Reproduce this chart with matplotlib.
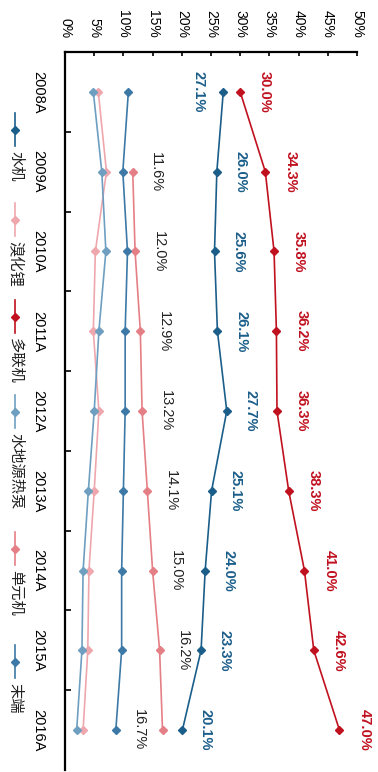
import numpy as np
import matplotlib
matplotlib.use('Agg')
import matplotlib.pyplot as plt
from matplotlib.lines import Line2D

plt.rcParams['font.family'] = ['Liberation Sans', 'Noto Sans CJK SC', 'DejaVu Sans']

#%% Data (values in %)
years = ['2008A', '2009A', '2010A', '2011A', '2012A', '2013A', '2014A', '2015A', '2016A']
names = ['水机', '溴化锂', '多联机', '水地源热泵', '单元机', '末端']

shuiji = [27.1, 26.0, 25.6, 26.1, 27.7, 25.1, 24.0, 23.3, 20.1]
xiuhuali = [5.7, 7.1, 5.2, 4.85, 5.8, 5.0, 4.1, 3.9, 3.1]
duolianji = [30.0, 34.3, 35.8, 36.2, 36.3, 38.3, 41.0, 42.6, 47.0]
shuidiyuan = [4.85, 6.3, 7.0, 5.8, 5.0, 4.0, 3.1, 2.9, 2.0]
danyuanji = [np.nan, 11.6, 12.0, 12.9, 13.2, 14.1, 15.0, 16.2, 16.7]
moduan = [10.85, 9.9, 10.7, 10.3, 10.3, 10.0, 9.7, 9.7, 8.7]

series = [shuiji, xiuhuali, duolianji, shuidiyuan, danyuanji, moduan]
colors = ['#1B5E8A', '#EFA7AE', '#C0111F', '#6E9FC1', '#E57F86', '#3D79A6']

#%% Figure, drawn already turned a quarter clockwise
W, H = 378, 772
fig = plt.figure(figsize=(W / 100, H / 100), dpi=100)
ax = fig.add_axes([65 / W, (H - 770) / H, (357 - 65) / W, 718 / H])

ypos = np.arange(len(years)) + 0.5
for vals, c in zip(series, colors):
    ax.plot(vals, ypos, color=c, lw=1.2, marker='D', ms=4.5, zorder=3)

ax.set_xlim(0, 50)
ax.set_ylim(len(years), 0)

# value axis on top
ax.xaxis.tick_top()
ax.set_xticks(np.arange(0, 51, 5))
ax.set_xticklabels(['%d%%' % v for v in range(0, 51, 5)], rotation=270, fontsize=10)
ax.tick_params(axis='x', direction='in', length=3, width=1.2, pad=10)

# category axis on the left
ax.set_yticks(np.arange(1, len(years)))
ax.set_yticklabels([])
ax.set_yticks(ypos, minor=True)
ax.set_yticklabels(years, minor=True, rotation=270, va='center', fontsize=10.5)
ax.tick_params(axis='y', which='major', direction='in', length=4, width=1.2)
ax.tick_params(axis='y', which='minor', length=0, pad=14)

for s in ['right', 'bottom']:
    ax.spines[s].set_visible(False)
for s in ['top', 'left']:
    ax.spines[s].set_linewidth(1.6)

#%% Data labels
def put_labels(vals, color, weight, offsets):
    for v, y, off in zip(vals, ypos, offsets):
        if np.isnan(v):
            continue
        ax.annotate('%.1f%%' % v, (v, y), xytext=(off, 0), textcoords='offset points',
                    rotation=270, ha='center', va='center', fontsize=10.5,
                    color=color, fontweight=weight)

put_labels(duolianji, '#C0111F', 'bold', [18] * 9)
put_labels(shuiji, '#1B5E8A', 'bold', [-18] + [17] * 8)
put_labels(danyuanji, '#222222', 'normal', [17] * 8 + [-17])

#%% Legend down the left edge
leg_start = [113, 203, 300, 395, 532, 645]
for name, c, y0 in zip(names, colors, leg_start):
    fy = lambda p: 1 - p / H
    fig.add_artist(Line2D([15 / W, 15 / W], [fy(y0), fy(y0 + 33)], color=c, lw=1.2,
                          transform=fig.transFigure))
    fig.add_artist(Line2D([15 / W], [fy(y0 + 16.5)], color=c, marker='D', ms=4.5,
                          transform=fig.transFigure))
    fig.text(15 / W, fy(y0 + 38), name, rotation=270, ha='center', va='top',
             fontsize=11, color='#222222')

plt.savefig('out.png', dpi=100)
